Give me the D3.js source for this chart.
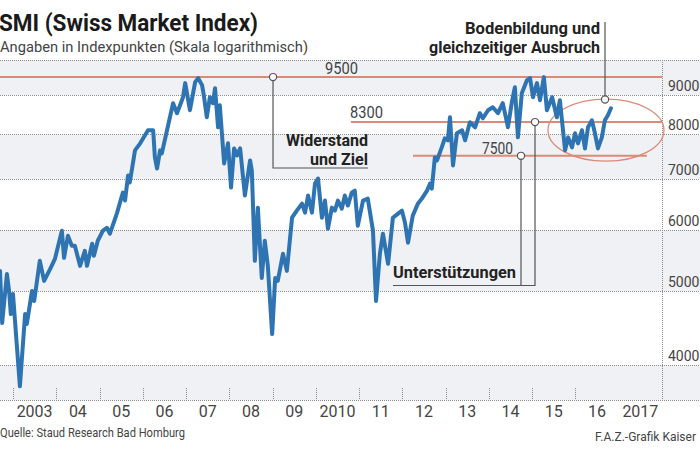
<!DOCTYPE html>
<html><head><meta charset="utf-8">
<script src="https://cdn.jsdelivr.net/npm/d3@7"></script>
<style>
body{margin:0;background:#fff}
svg{display:block}
text{font-family:Roboto,'Noto Sans',sans-serif}
</style>
</head><body>
<svg id="chart" width="700" height="450"></svg>
<script>
// ---------- data ----------
const years = [2002.70,2002.75,2002.86,2002.91,2002.95,2003.00,2003.16,2003.28,2003.32,2003.44,2003.49,2003.62,2003.72,2003.86,2003.97,
2004.13,2004.18,2004.27,2004.36,2004.43,2004.55,2004.66,2004.71,2004.83,2004.87,2004.96,2005.08,2005.17,2005.24,2005.40,2005.54,2005.59,
2005.66,2005.70,2005.82,2005.94,2006.12,2006.24,2006.28,2006.33,2006.40,2006.44,2006.70,2006.79,2006.93,2006.98,2007.09,2007.21,2007.28,
2007.37,2007.41,2007.48,2007.55,2007.62,2007.67,2007.74,2007.78,2007.88,2007.97,2008.04,2008.11,2008.18,2008.25,2008.36,2008.48,2008.52,
2008.59,2008.66,2008.75,2008.82,2008.89,2008.99,2009.06,2009.12,2009.24,2009.33,2009.45,2009.56,2009.68,2009.75,2009.82,2009.91,2009.98,
2010.05,2010.14,2010.21,2010.28,2010.37,2010.44,2010.51,2010.60,2010.67,2010.74,2010.83,2010.90,2010.97,2011.09,2011.20,2011.32,2011.39,
2011.48,2011.55,2011.67,2011.78,2011.90,2011.99,2012.06,2012.13,2012.24,2012.36,2012.45,2012.57,2012.64,2012.68,2012.75,2012.80,2012.91,
2012.98,2013.05,2013.10,2013.17,2013.26,2013.38,2013.45,2013.56,2013.68,2013.79,2013.86,2013.98,2014.09,2014.21,2014.32,2014.44,2014.53,
2014.60,2014.67,2014.76,2014.88,2014.95,2015.02,2015.11,2015.18,2015.27,2015.34,2015.46,2015.57,2015.64,2015.76,2015.83,2015.92,2015.99,
2016.06,2016.15,2016.22,2016.29,2016.38,2016.45,2016.52,2016.61,2016.68,2016.75,2016.82];
const smiValues = [5310,4540,5260,5000,4665,4955,3755,4665,4527,5000,4851,5473,5153,5342,5505,
5991,5522,5901,5726,5726,5391,5640,5391,5761,5555,5813,5991,6044,5937,6306,6717,6558,
7070,6923,7624,7787,8098,8098,7464,7220,7624,7555,8784,8524,8943,9330,8601,9358,9470,
9274,8998,8420,8943,8784,9189,8171,8731,7331,7787,6819,7669,7510,7669,6657,7398,7178,
5473,6420,5198,5813,5391,4392,5198,5153,5589,5310,6229,6363,6499,6325,6657,6325,6902,
7006,6229,6558,6026,6420,6363,6558,6401,6657,6460,6717,6758,6081,6558,6596,5991,4851,
5589,5937,5424,6229,6306,6363,6137,5778,6268,6499,6596,6758,6902,6798,7464,7398,7693,
7904,7858,8420,7287,8025,8098,7858,8296,8171,8524,8395,8601,8678,8524,8784,8171,8811,
9217,7928,9053,9415,9470,8943,9330,8864,9499,8601,8943,8420,8864,7624,7928,7693,8025,
7787,8098,7669,8171,8346,8025,7669,7928,8346,8472,8651];

const gridValues = [4000,5000,6000,7000,8000,9000,10000];
const axisValues = [4000,5000,6000,7000,8000,9000];
const axisLabels = ["4000","5000","6000","7000","8000","9000"];
const yearTicks = [2003,2004,2005,2006,2007,2008,2009,2010,2011,2012,2013,2014,2015,2016];
const yearLabelYears = [2003,2004,2005,2006,2007,2008,2009,2010,2011,2012,2013,2014,2015,2016,2017];
const yearLabels = ["2003","04","05","06","07","08","09","2010","11","12","13","14","15","16","2017"];
const levelValues = [9500, 8300, 7500];
const levelLabels = ["9500", "8300", "7500"];

const titleText = "SMI (Swiss Market Index)";
const subtitleText = "Angaben in Indexpunkten (Skala logarithmisch)";
const sourceText = "Quelle: Staud Research Bad Homburg";
const creditText = "F.A.Z.-Grafik Kaiser";

// ---------- layout ----------
const svg = d3.select("#chart");
const W = 700, plotRight = 662, plotTop = 60, plotBottom = 400;
const x = d3.scaleLinear().domain([2002.7, 2018]).range([0, plotRight]);
const y = d3.scaleLog().domain([3604, 10000]).range([plotBottom, plotTop]);

const RED = "#dc8a76", BLUE = "#2e74b3", GRID = "#8c8c8c", ANN = "#555";

// bands (grey / white alternating)
const bandEdges = [y.domain()[0], ...gridValues];
const bands = d3.pairs(bandEdges).filter((d, i) => i % 2 === 0);
svg.append("g").selectAll("rect").data(bands).join("rect")
  .attr("x", 0).attr("width", W)
  .attr("y", d => y(d[1])).attr("height", d => y(d[0]) - y(d[1]))
  .attr("fill", "#eff1f4");

// horizontal grid lines (dotted)
svg.append("g").selectAll("line").data([...gridValues, y.domain()[0]]).join("line")
  .attr("x1", 0).attr("x2", W)
  .attr("y1", d => Math.round(y(d)) + 0.5).attr("y2", d => Math.round(y(d)) + 0.5)
  .attr("stroke", GRID).attr("stroke-width", 1).attr("stroke-dasharray", "1,1");

// right border
svg.append("line").attr("x1", plotRight + 0.5).attr("x2", plotRight + 0.5)
  .attr("y1", y(10000)).attr("y2", plotBottom)
  .attr("stroke", GRID).attr("stroke-dasharray", "1,1");

// year ticks
svg.append("g").selectAll("line").data(yearTicks).join("line")
  .attr("x1", d => Math.round(x(d)) + 0.5).attr("x2", d => Math.round(x(d)) + 0.5)
  .attr("y1", plotBottom - 12).attr("y2", plotBottom)
  .attr("stroke", GRID).attr("stroke-dasharray", "1,1");

// right axis labels
svg.append("g").selectAll("text").data(axisValues).join("text")
  .attr("x", 668).attr("y", d => y(d) - 4)
  .attr("font-size", 14).attr("fill", "#444")
  .text((d, i) => axisLabels[i]);

// year labels
svg.append("g").selectAll("text").data(yearLabelYears).join("text")
  .attr("x", d => x(d + 0.5)).attr("y", 417)
  .attr("text-anchor", "middle").attr("font-size", 16).attr("fill", "#444")
  .text((d, i) => yearLabels[i]);

// red level lines
const levelExtents = [[2002.7, 2018], [2010.81, 2018], [2012.245, 2017.65]];
svg.append("g").selectAll("line").data(levelValues).join("line")
  .attr("x1", (d, i) => x(levelExtents[i][0])).attr("x2", (d, i) => Math.min(x(levelExtents[i][1]), plotRight))
  .attr("y1", d => y(d)).attr("y2", d => y(d))
  .attr("stroke", RED).attr("stroke-width", 2);

// ellipse
svg.append("ellipse")
  .attr("cx", x(2016.705)).attr("cy", y(8100))
  .attr("rx", 58).attr("ry", 31)
  .attr("fill", "none").attr("stroke", RED).attr("stroke-width", 1.3);

// data line
const series = years.map((yr, i) => ({yr, v: smiValues[i]}));
svg.append("path").datum(series)
  .attr("d", d3.line().x(d => x(d.yr)).y(d => y(d.v)))
  .attr("fill", "none").attr("stroke", BLUE).attr("stroke-width", 4)
  .attr("stroke-linejoin", "round").attr("stroke-linecap", "round");

// annotation connector lines
function conn(pts) {
  svg.append("path").attr("d", d3.line()(pts))
    .attr("fill", "none").attr("stroke", ANN).attr("stroke-width", 1.2);
}
// Widerstand und Ziel
conn([[x(2009.01), y(9500)], [x(2009.01), 168], [x(2011.205), 168]]);
// Unterstützungen
conn([[x(2014.741), y(7500)], [x(2014.741), 285.5]]);
conn([[x(2011.783), 285.5], [x(2015.065), 285.5], [x(2015.065), y(8300)]]);
// Bodenbildung
conn([[x(2016.683), 22], [x(2016.683), y(8880)]]);

const circles = [[2009.01, 9500], [2014.741, 7500], [2015.065, 8300], [2016.683, 8880]];
svg.append("g").selectAll("circle").data(circles).join("circle")
  .attr("cx", d => x(d[0])).attr("cy", d => y(d[1])).attr("r", 3.6)
  .attr("fill", "#fff").attr("stroke", ANN).attr("stroke-width", 1.2);

// text helper
function label(px, py, s, o) {
  const t = svg.append("text").attr("x", px).attr("y", py)
    .attr("font-size", o.size).attr("font-weight", o.weight || 400)
    .attr("fill", o.fill || "#222").attr("text-anchor", o.anchor || "start")
    .text(s);
  if (o.len) t.attr("textLength", o.len).attr("lengthAdjust", "spacingAndGlyphs");
  return t;
}

// level labels
label(358, y(9500) - 3, levelLabels[0], {size: 16, fill: "#444", anchor: "end", len: 33});
label(383, y(8300) - 4, levelLabels[1], {size: 16, fill: "#444", anchor: "end", len: 33});
label(513, y(7500) - 2, levelLabels[2], {size: 16, fill: "#444", anchor: "end", len: 31});

// annotation texts
label(368, 146, "Widerstand", {size: 16, weight: 700, anchor: "end", len: 82});
label(368, 165, "und Ziel", {size: 16, weight: 700, anchor: "end", len: 58});
label(516, 278, "Unterstützungen", {size: 16.5, weight: 700, anchor: "end", len: 123});
label(600, 34, "Bodenbildung und", {size: 16, weight: 700, anchor: "end", len: 135});
label(600, 53, "gleichzeitiger Ausbruch", {size: 16, weight: 700, anchor: "end", len: 171});

// title etc.
label(-1, 31, titleText, {size: 24, weight: 700, fill: "#1a1a1a", len: 259});
label(0, 52, subtitleText, {size: 15.5, fill: "#444", len: 308});
label(0, 437, sourceText, {size: 13, fill: "#444", len: 185});
label(696, 441, creditText, {size: 12, fill: "#444", anchor: "end"});
</script>
</body></html>
